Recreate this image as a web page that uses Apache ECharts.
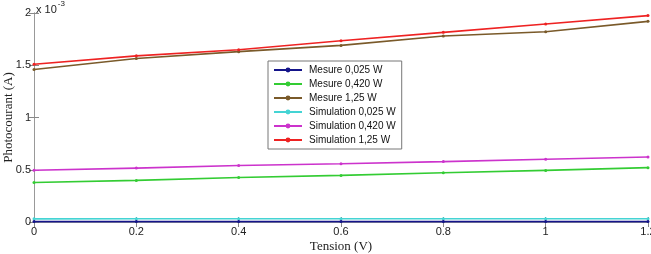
<!DOCTYPE html>
<html>
<head>
<meta charset="utf-8">
<script src="https://cdn.jsdelivr.net/npm/echarts@6/dist/echarts.min.js"></script>
<style>
html,body{margin:0;padding:0;background:#fff;}
#chart{width:651px;height:254px;}
</style>
</head>
<body>
<div id="chart"></div>
<script>
// tension (V)
const tension = [0, 0.2, 0.4, 0.6, 0.8, 1.0, 1.2];
// photocourant, in units of 1e-3 A
const mesure025 = [0.004, 0.004, 0.004, 0.004, 0.004, 0.004, 0.004];
const mesure420 = [0.378, 0.398, 0.426, 0.446, 0.471, 0.494, 0.52];
const mesure125 = [1.46, 1.565, 1.63, 1.69, 1.78, 1.82, 1.92];
const simu025 = [0.03, 0.031, 0.031, 0.031, 0.031, 0.031, 0.031];
const simu420 = [0.495, 0.516, 0.54, 0.558, 0.578, 0.6, 0.622];
const simu125 = [1.51, 1.59, 1.648, 1.735, 1.815, 1.895, 1.975];
const seriesNames = ['Mesure 0,025 W', 'Mesure 0,420 W', 'Mesure 1,25 W',
  'Simulation 0,025 W', 'Simulation 0,420 W', 'Simulation 1,25 W'];
const colors = ['#14148a', '#33cc33', '#7a5a2a', '#44d4d4', '#cc33cc', '#ee2222'];

const allData = [mesure025, mesure420, mesure125, simu025, simu420, simu125];

const chart = echarts.init(document.getElementById('chart'));

const tickStyle = { inside: true, length: 5, lineStyle: { color: '#888' } };
const lineStyle = { lineStyle: { color: '#999', width: 1 } };

const option = {
  animation: false,
  grid: { left: 34, right: 3, top: 13, bottom: 32, outerBoundsMode: 'none', containLabel: false },
  legend: {
    orient: 'vertical',
    left: 268, top: 61,
    itemWidth: 28, itemHeight: 6, itemGap: 4,
    padding: [4, 6, 4, 5],
    borderColor: '#777', borderWidth: 1,
    backgroundColor: '#fff',
    textStyle: { fontFamily: 'Liberation Sans', fontSize: 10, color: '#111', padding: [0, 0, 0, 2] },
    data: seriesNames
  },
  xAxis: [{
    type: 'value', min: 0, max: 1.2, interval: 0.2,
    name: 'Tension (V)', nameLocation: 'middle', nameGap: 18, nameMoveOverlap: false,
    nameTextStyle: { fontFamily: 'Liberation Serif', fontSize: 13, color: '#222' },
    axisLine: lineStyle, axisTick: tickStyle, splitLine: { show: false },
    axisLabel: { fontFamily: 'Liberation Sans', fontSize: 11, color: '#222', margin: 4,
      formatter: v => String(Math.round(v * 10) / 10) }
  }, {
    type: 'value', min: 0, max: 1.2, interval: 0.2, position: 'top',
    axisLine: lineStyle, axisTick: tickStyle, axisLabel: { show: false }, splitLine: { show: false }
  }],
  yAxis: [{
    type: 'value', min: 0, max: 2, interval: 0.5,
    name: 'Photocourant (A)', nameLocation: 'middle', nameGap: 19, nameMoveOverlap: false,
    nameTextStyle: { fontFamily: 'Liberation Serif', fontSize: 13, color: '#222' },
    axisLine: { show: true, lineStyle: { color: '#999', width: 1 } },
    axisTick: { show: true, inside: true, length: 5, lineStyle: { color: '#888' } },
    splitLine: { show: false },
    axisLabel: { fontFamily: 'Liberation Sans', fontSize: 11, color: '#222', margin: 3 }
  }, {
    type: 'value', min: 0, max: 2, interval: 0.5, position: 'right',
    axisLine: { show: true, lineStyle: { color: '#999', width: 1 } },
    axisTick: { show: true, inside: true, length: 5, lineStyle: { color: '#888' } },
    axisLabel: { show: false }, splitLine: { show: false }
  }],
  graphic: [{
    type: 'text', left: 36, top: 0,
    style: {
      text: '{a|x 10}{b|-3}',
      rich: {
        a: { fontFamily: 'Liberation Sans', fontSize: 11, fill: '#222', padding: [6, 0, 0, 0] },
        b: { fontFamily: 'Liberation Sans', fontSize: 8, fill: '#222', padding: [0, 0, 6, 1] }
      }
    }
  }],
  series: seriesNames.map((name, i) => ({
    name: name,
    type: 'line',
    data: tension.map((t, k) => [t, allData[i][k]]),
    symbol: 'circle',
    symbolSize: 3,
    showSymbol: true,
    itemStyle: { color: colors[i] },
    lineStyle: { color: colors[i], width: 1.6 },
    z: i === 0 ? 3 : 2
  }))
};

chart.setOption(option);
</script>
</body>
</html>
